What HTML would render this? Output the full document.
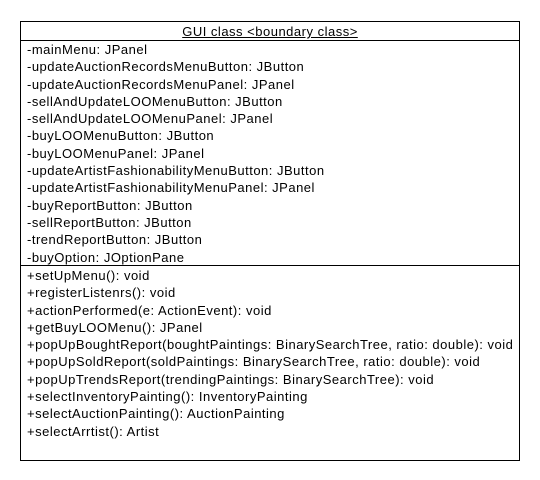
<!DOCTYPE html>
<html><head><style>
body{margin:0;background:#fff;width:540px;height:480px;position:relative;font-family:"Liberation Sans",Arial,sans-serif;font-size:13px;color:#000;letter-spacing:0.5px}
.box{position:absolute;left:20px;top:21px;width:498px;height:438px;border:1px solid #000}
.hd{position:absolute;left:0;top:0;width:100%;height:18px;border-bottom:1px solid #000;text-align:center;line-height:20px;text-decoration:underline}
.sec{position:absolute;left:6px;line-height:17.3px;white-space:pre}
.div{position:absolute;left:0;width:100%;top:243px;border-top:1px solid #000}
</style></head><body>
<div class="box">
<div class="hd">GUI class &lt;boundary class&gt;</div>
<div class="sec" style="top:19px">-mainMenu: JPanel
-updateAuctionRecordsMenuButton: JButton
-updateAuctionRecordsMenuPanel: JPanel
-sellAndUpdateLOOMenuButton: JButton
-sellAndUpdateLOOMenuPanel: JPanel
-buyLOOMenuButton: JButton
-buyLOOMenuPanel: JPanel
-updateArtistFashionabilityMenuButton: JButton
-updateArtistFashionabilityMenuPanel: JPanel
-buyReportButton: JButton
-sellReportButton: JButton
-trendReportButton: JButton
-buyOption: JOptionPane</div>
<div class="div"></div>
<div class="sec" style="top:245px">+setUpMenu(): void
+registerListenrs(): void
+actionPerformed(e: ActionEvent): void
+getBuyLOOMenu(): JPanel
+popUpBoughtReport(boughtPaintings: BinarySearchTree, ratio: double): void
+popUpSoldReport(soldPaintings: BinarySearchTree, ratio: double): void
+popUpTrendsReport(trendingPaintings: BinarySearchTree): void
+selectInventoryPainting(): InventoryPainting
+selectAuctionPainting(): AuctionPainting
+selectArrtist(): Artist</div>
</div>
</body></html>
